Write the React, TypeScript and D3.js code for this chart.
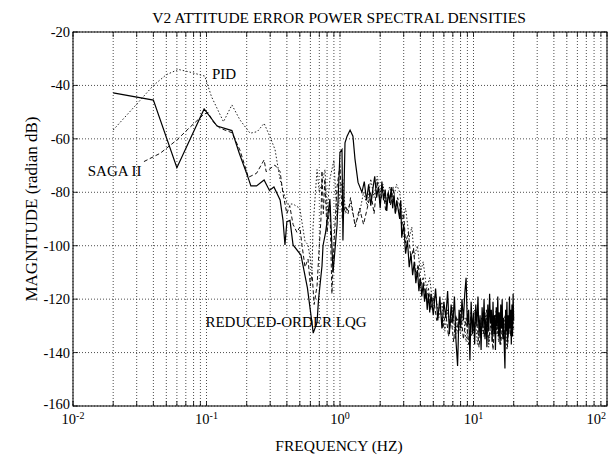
import React from 'react';
import * as d3 from 'd3';

const W = 615;
const H = 459;
const M = { left: 73, right: 8, top: 32, bottom: 53 };

const titleText = 'V2 ATTITUDE ERROR POWER SPECTRAL DENSITIES';
const xLabelText = 'FREQUENCY (HZ)';
const yLabelText = 'MAGNITUDE (radian dB)';
const xDomain = [0.01, 100];
const yDomain = [-160, -20];
const xLabelExps = ['-2', '-1', '0', '1', '2'];
const yTicks = [-160, -140, -120, -100, -80, -60, -40, -20];

// REDUCED-ORDER LQG (solid)
const lqg: [number, number][] = [
  [0.02, -42.8], [0.04, -45.5], [0.06, -70.8], [0.096, -48.8], [0.12, -55.2], [0.155, -56.9],
  [0.176, -65.4], [0.205, -74.5], [0.215, -77.6], [0.237, -77.6], [0.27, -75.4], [0.296, -79.3],
  [0.32, -78], [0.356, -82.9], [0.374, -90.4], [0.387, -99.7], [0.4, -91], [0.422, -90.5],
  [0.445, -99.7], [0.51, -103.5], [0.57, -115.8], [0.617, -129], [0.63, -132.7], [0.673, -128.8],
  [0.69, -120.3], [0.733, -107.6], [0.746, -100], [0.78, -95], [0.8, -91], [0.84, -82.5],
  [0.887, -110], [0.95, -92.5], [1.0, -65], [1.035, -64], [1.052, -98], [1.09, -61.5],
  [1.13, -59], [1.19, -56.7], [1.25, -59], [1.295, -67.6], [1.365, -76.3], [1.46, -80],
  [1.52, -76], [1.58, -83], [1.64, -77], [1.7, -85], [1.76, -79], [1.82, -74], [1.88, -82],
  [1.94, -78], [2.0, -86], [2.06, -76], [2.12, -83], [2.18, -79], [2.24, -87], [2.3, -80],
  [2.36, -84], [2.42, -78], [2.48, -86], [2.54, -81], [2.6, -88], [2.66, -83], [2.72, -86],
  [2.8, -90], [2.85, -83], [2.9, -97], [3.0, -92], [3.1, -103], [3.2, -98], [3.3, -108],
  [3.4, -103], [3.5, -111], [3.6, -106], [3.7, -114], [3.8, -109], [3.9, -117], [4.0, -112],
  [4.1, -119], [4.2, -114], [4.3, -121], [4.4, -116], [4.5, -124], [4.6, -118], [4.7, -125],
  [4.8, -118], [5.0, -126], [5.2, -116], [5.4, -128], [5.6, -119], [5.8, -131], [6.0, -121],
  [6.2, -127], [6.4, -117], [6.6, -133], [6.8, -122], [7.0, -129], [7.2, -119], [7.4, -136],
  [7.6, -145], [7.8, -124], [8.0, -131], [8.2, -120], [8.4, -128], [8.6, -118], [8.8, -112],
  [9.0, -130], [9.2, -124], [9.4, -143], [9.6, -121], [9.8, -133], [10.0, -125], [10.2, -137],
  [10.4, -122], [10.6, -130], [10.8, -119], [11.0, -134], [11.2, -126], [11.4, -139], [11.6, -123],
  [11.8, -131], [12.0, -120], [12.2, -135], [12.4, -127], [12.6, -138], [12.8, -122], [13.0, -132],
  [13.2, -118], [13.4, -129], [13.6, -124], [13.8, -136], [14.0, -121], [14.2, -133], [14.4, -126],
  [14.6, -139], [14.8, -123], [15.0, -130], [15.2, -119], [15.4, -134], [15.6, -125], [15.8, -137],
  [16.0, -122], [16.2, -131], [16.4, -120], [16.6, -135], [16.8, -127], [17.0, -138], [17.2, -146],
  [17.4, -124], [17.6, -132], [17.8, -121], [18.0, -136], [18.2, -126], [18.4, -133], [18.6, -119],
  [18.8, -131], [19.0, -124], [19.2, -137], [19.4, -122], [19.6, -134], [19.8, -118], [20.0, -128],
];

// SAGA II (dashed)
const saga: [number, number][] = [
  [0.034, -68.5], [0.045, -65.4], [0.06, -60.4], [0.075, -55.7], [0.096, -50.7], [0.103, -50.2],
  [0.112, -53.6], [0.126, -56], [0.155, -57.7], [0.178, -64.2], [0.206, -74.4], [0.237, -72.9],
  [0.27, -67.9], [0.28, -72.3], [0.325, -69.8], [0.356, -72.3], [0.374, -80.5], [0.4, -88],
  [0.42, -85], [0.445, -92], [0.476, -95], [0.5, -93], [0.52, -100], [0.547, -108], [0.576, -105],
  [0.6, -115], [0.617, -110], [0.64, -122], [0.673, -115], [0.7, -100], [0.72, -90], [0.733, -72],
  [0.75, -88], [0.77, -75], [0.8, -95], [0.84, -85], [0.87, -118], [0.9, -100], [0.95, -78],
  [1.0, -70], [1.04, -90], [1.1, -85], [1.15, -88], [1.2, -82], [1.3, -93], [1.4, -86], [1.5, -92],
  [1.6, -86], [1.7, -80], [1.8, -88], [1.9, -76], [2.0, -84], [2.1, -79], [2.2, -87], [2.3, -80],
  [2.4, -85], [2.5, -78], [2.6, -88], [2.7, -82], [2.8, -85], [2.9, -93], [3.0, -88], [3.1, -99],
  [3.25, -95], [3.4, -105], [3.55, -101], [3.7, -111], [3.85, -107], [4.0, -115], [4.2, -112],
  [4.4, -120], [4.6, -116], [4.8, -124], [5.0, -119], [5.3, -128], [5.6, -122], [5.9, -131],
  [6.2, -125], [6.5, -134], [6.8, -127], [7.1, -136], [7.4, -126], [7.7, -133], [8.0, -124],
  [8.4, -135], [8.8, -127], [9.2, -137], [9.6, -125], [10, -132], [10.5, -126], [11, -138],
  [11.5, -127], [12, -134], [12.5, -124], [13, -136], [13.5, -128], [14, -139], [14.5, -126],
  [15, -133], [15.5, -125], [16, -137], [16.5, -129], [17, -135], [17.5, -124], [18, -138],
  [18.5, -127], [19, -134], [19.5, -126], [20, -131],
];

// PID (dotted)
const pid: [number, number][] = [
  [0.02, -56.7], [0.03, -47], [0.04, -40], [0.05, -36], [0.0615, -34], [0.075, -35], [0.097, -36.5],
  [0.109, -44.2], [0.134, -53.6], [0.155, -47.3], [0.178, -52.9], [0.212, -57.9], [0.24, -57.3],
  [0.27, -54.2], [0.299, -59.2], [0.326, -64], [0.356, -75.4], [0.401, -84.4], [0.445, -84.4],
  [0.5, -86], [0.547, -98.4], [0.576, -99.6], [0.617, -109.4], [0.628, -93], [0.673, -71.5],
  [0.7, -80], [0.733, -76.6], [0.772, -71.5], [0.8, -88], [0.84, -75], [0.9, -68], [0.95, -90],
  [1.0, -80], [1.05, -75], [1.1, -88], [1.2, -84], [1.3, -92], [1.4, -88], [1.5, -80], [1.6, -85],
  [1.7, -75], [1.8, -82], [1.9, -74], [2.0, -80], [2.1, -77], [2.2, -84], [2.35, -78], [2.5, -83],
  [2.65, -77], [2.8, -80], [2.95, -90], [3.1, -86], [3.3, -97], [3.45, -93], [3.6, -104], [3.8, -100],
  [4.0, -110], [4.2, -106], [4.45, -116], [4.7, -112], [4.95, -122], [5.2, -118], [5.5, -127],
  [5.8, -121], [6.1, -132], [6.4, -124], [6.7, -130], [7.0, -123], [7.3, -135], [7.6, -127],
  [8.0, -133], [8.4, -125], [8.8, -136], [9.2, -128], [9.7, -134], [10.2, -124], [10.7, -137],
  [11.2, -128], [11.8, -133], [12.4, -125], [13, -138], [13.6, -127], [14.2, -132], [14.8, -124],
  [15.4, -136], [16, -128], [16.6, -134], [17.2, -126], [17.8, -139], [18.4, -128], [19, -133],
  [19.6, -125], [20, -130],
];

const labels = [
  { text: 'PID', x: 0.11, y: -37.5, anchor: 'start' },
  { text: 'SAGA II', x: 0.0129, y: -73.9, anchor: 'start' },
  { text: 'REDUCED-ORDER LQG', x: 1.585, y: -130.3, anchor: 'end' },
];

const FONT = '"Liberation Serif", "Times New Roman", Times, serif';

export default function App() {
  const x = d3.scaleLog().domain(xDomain).range([M.left, W - M.right]);
  const y = d3.scaleLinear().domain(yDomain).range([H - M.bottom, M.top]);
  const xGrid = x.ticks();
  const line = d3.line<[number, number]>().x((d) => x(d[0])).y((d) => y(d[1]));
  const x0 = M.left, x1 = W - M.right, y0 = M.top, y1 = H - M.bottom;
  const decades = xLabelExps.map((e) => Math.pow(10, +e));

  return (
    <svg width={W} height={H} style={{ position: 'absolute', left: 0, top: 0, background: '#fff' }} fontFamily={FONT}>
      <rect x={0} y={0} width={W} height={H} fill="#fff" />
      <text x={339} y={23} textAnchor="middle" fontSize={15.5}>{titleText}</text>
      {/* grid */}
      {xGrid.map((t, i) => (
        <line key={'gx' + i} x1={x(t)} x2={x(t)} y1={y0} y2={y1} stroke="#000" strokeWidth={0.7} strokeDasharray="1,2" />
      ))}
      {yTicks.map((t) => (
        <line key={'gy' + t} x1={x0} x2={x1} y1={y(t)} y2={y(t)} stroke="#000" strokeWidth={0.7} strokeDasharray="1,2" />
      ))}
      {/* ticks */}
      {xGrid.map((t, i) => (
        <g key={'tx' + i}>
          <line x1={x(t)} x2={x(t)} y1={y1} y2={y1 - 5} stroke="#000" strokeWidth={0.8} />
          <line x1={x(t)} x2={x(t)} y1={y0} y2={y0 + 5} stroke="#000" strokeWidth={0.8} />
        </g>
      ))}
      {yTicks.map((t) => (
        <g key={'ty' + t}>
          <line x1={x0} x2={x0 + 5} y1={y(t)} y2={y(t)} stroke="#000" strokeWidth={0.8} />
          <line x1={x1} x2={x1 - 5} y1={y(t)} y2={y(t)} stroke="#000" strokeWidth={0.8} />
          <text x={x0 - 3} y={y(t) + (t === -160 ? 3 : 5)} textAnchor="end" fontSize={14.5}>{t}</text>
        </g>
      ))}
      {decades.map((d, i) => {
        const last = i === decades.length - 1;
        return (
          <text key={'xl' + i} x={last ? x(d) - 1 : x(d)} y={y1 + 18} textAnchor={last ? 'end' : 'middle'} fontSize={14.5}>
            10<tspan dy={-5} fontSize={10}>{xLabelExps[i]}</tspan>
          </text>
        );
      })}
      {/* series */}
      <path d={line(pid) || ''} fill="none" stroke="#222" strokeWidth={1} strokeDasharray="1.5,2" />
      <path d={line(saga) || ''} fill="none" stroke="#111" strokeWidth={1} strokeDasharray="4,2.5" />
      <path d={line(lqg) || ''} fill="none" stroke="#000" strokeWidth={1.2} />
      {/* frame */}
      <rect x={x0} y={y0} width={x1 - x0} height={y1 - y0} fill="none" stroke="#000" strokeWidth={1} />
      {labels.map((l) => (
        <text key={l.text} x={x(l.x)} y={y(l.y)} textAnchor={l.anchor as any} fontSize={15}>{l.text}</text>
      ))}
      <text x={339} y={451} textAnchor="middle" fontSize={15.5}>{xLabelText}</text>
      <text transform={`translate(37, 209) rotate(-90)`} textAnchor="middle" fontSize={17}>{yLabelText}</text>
    </svg>
  );
}
